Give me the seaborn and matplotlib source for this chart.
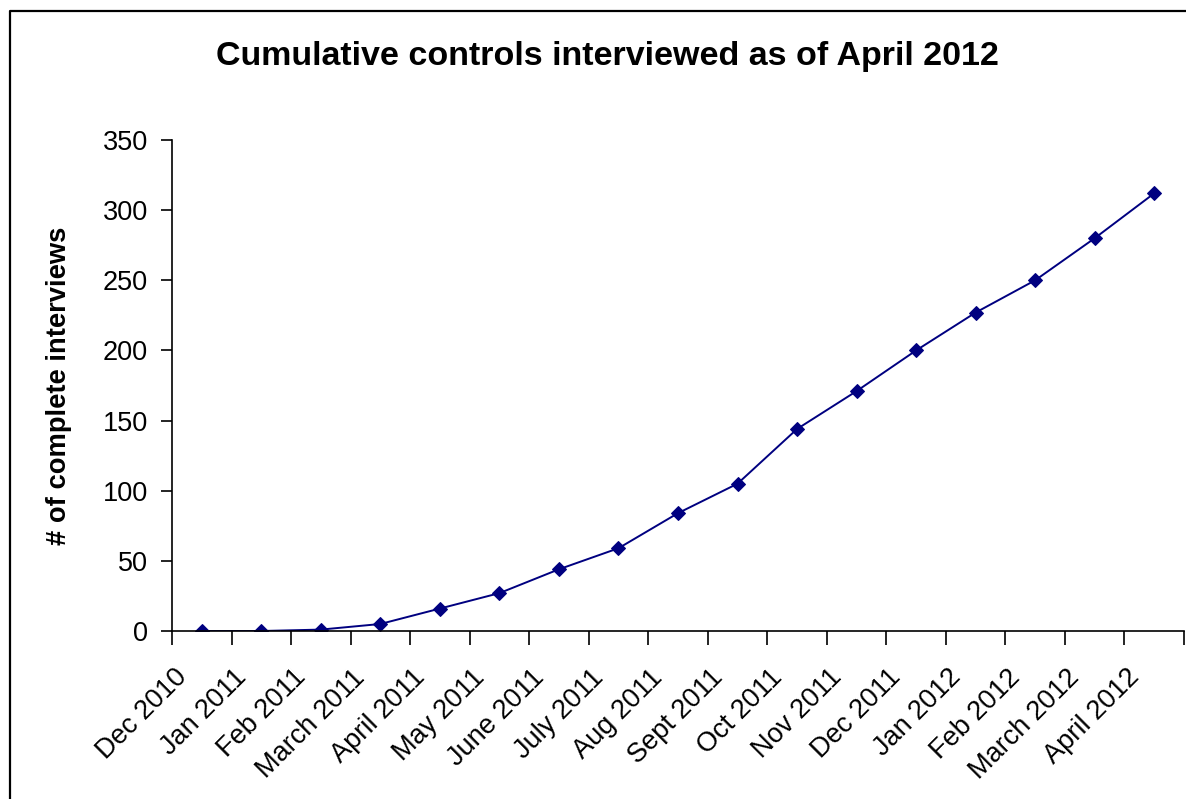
import matplotlib
matplotlib.use("Agg")
import matplotlib.pyplot as plt
import matplotlib.transforms as mtransforms
from matplotlib.lines import Line2D
import seaborn as sns
import pandas as pd
import numpy as np

months = ["Dec 2010", "Jan 2011", "Feb 2011", "March 2011", "April 2011", "May 2011",
          "June 2011", "July 2011", "Aug 2011", "Sept 2011", "Oct 2011", "Nov 2011",
          "Dec 2011", "Jan 2012", "Feb 2012", "March 2012", "April 2012"]
interviews = [0, 0, 1, 5, 16, 27, 44, 59, 84, 105, 144, 171, 200, 227, 250, 280, 312]
y_ticks = [0, 50, 100, 150, 200, 250, 300, 350]

sns.set_style("ticks")
plt.rcParams["font.family"] = ["Liberation Sans", "DejaVu Sans"]
plt.rcParams["text.color"] = "black"
plt.rcParams["axes.labelcolor"] = "black"
plt.rcParams["xtick.color"] = "black"
plt.rcParams["ytick.color"] = "black"

df = pd.DataFrame({"month": months, "n": interviews})
df["pos"] = np.arange(len(months))

fig = plt.figure(figsize=(11.86, 7.99), dpi=100)
ax = fig.add_axes([172 / 1186, 1 - 631 / 799, (1184 - 172) / 1186, (631 - 140) / 799])

sns.lineplot(data=df, x="pos", y="n", ax=ax, color="#000080", linewidth=1.4,
             marker="D", markersize=7, markeredgecolor="#000080", markerfacecolor="#000080")

n = len(months)
ax.set_xlim(-0.5, n - 0.5)
ax.set_ylim(0, 350)
ax.set_yticks(y_ticks)
ax.set_yticklabels([str(v) for v in y_ticks], fontsize=19.5, color="black")
ax.set_xticks(np.arange(-0.5, n, 1.0))
ax.set_xticklabels([])
ax.set_xticks(np.arange(n), minor=True)
ax.set_xticklabels(months, minor=True, rotation=45, ha="right", va="top",
                   rotation_mode="anchor", fontsize=19.5, color="black")
ax.tick_params(axis="x", which="minor", length=0, pad=24)
ax.tick_params(axis="x", which="major", length=10, width=1.2, color="black", direction="out")
ax.tick_params(axis="y", which="major", length=8, width=1.2, color="black", direction="out", pad=9.5)

offset = mtransforms.ScaledTranslation(-28 / 100, 0, fig.dpi_scale_trans)
for lab in ax.get_xticklabels(minor=True):
    lab.set_transform(lab.get_transform() + offset)

for side in ["top", "right"]:
    ax.spines[side].set_visible(False)
for side in ["left", "bottom"]:
    ax.spines[side].set_color("black")
    ax.spines[side].set_linewidth(1.2)

ax.set_xlabel("")
ax.set_ylabel("# of complete interviews", fontsize=19.7, fontweight="bold",
              labelpad=22, color="black")
fig.text(607 / 1186, 1 - 56 / 799, "Cumulative controls interviewed as of April 2012",
         ha="center", va="center", fontsize=24.5, fontweight="bold", color="black")

bx = 10 / 1186
by = 1 - 11 / 799
fig.add_artist(Line2D([bx, bx, 1.01], [-0.01, by, by], transform=fig.transFigure,
                      color="black", linewidth=1.6))

fig.savefig("out.png", dpi=100)
